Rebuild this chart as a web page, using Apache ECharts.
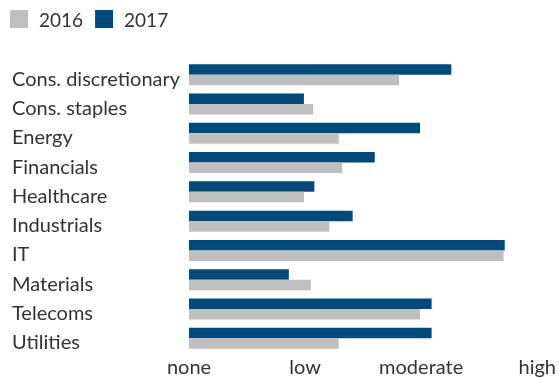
<!DOCTYPE html>
<html>
<head>
<meta charset="utf-8">
<script src="https://cdn.jsdelivr.net/npm/echarts@6/dist/echarts.min.js"></script>
<style>
  html, body { margin: 0; padding: 0; background: #fff; }
  #chart { width: 559px; height: 378px; }
</style>
</head>
<body>
<div id="chart"></div>
<script>
// Sectors listed top to bottom
const sectors = [
  'Cons. discretionary', 'Cons. staples', 'Energy', 'Financials', 'Healthcare',
  'Industrials', 'IT', 'Materials', 'Telecoms', 'Utilities'
];
// Exposure scores on a 0 (none) to 3 (high) scale
const values2016 = [1.81, 1.07, 1.29, 1.32, 0.99, 1.21, 2.71, 1.05, 1.99, 1.29];
const values2017 = [2.26, 0.99, 1.99, 1.60, 1.08, 1.41, 2.72, 0.86, 2.09, 2.09];
// Scale labels for ticks 0..3
const levelLabels = ['none', 'low', 'moderate', 'high'];

const FONT = 'Lato, "Open Sans", sans-serif';
const TEXT = '#333333';

const chart = echarts.init(document.getElementById('chart'), null, { renderer: 'canvas' });
chart.setOption({
  animation: false,
  textStyle: { fontFamily: FONT },
  legend: {
    data: ['2016', '2017'],
    left: 10,
    top: 10,
    icon: 'rect',
    itemWidth: 18,
    itemHeight: 18,
    itemGap: 12,
    padding: 0,
    formatter: name => '{t|' + name + '}',
    textStyle: {
      fontSize: 19, color: TEXT, fontFamily: FONT,
      rich: { t: { fontSize: 19, color: TEXT, fontFamily: FONT, padding: [4, 0, 0, 6] } }
    }
  },
  grid: { left: 189, right: 20, top: 60, bottom: 24.7, containLabel: false },
  xAxis: {
    type: 'value',
    min: 0,
    max: 3,
    interval: 1,
    axisLine: { show: false },
    axisTick: { show: false },
    splitLine: { show: false },
    axisLabel: {
      margin: 5,
      fontSize: 20,
      color: TEXT,
      fontFamily: FONT,
      formatter: v => levelLabels[Math.round(v)]
    }
  },
  yAxis: {
    type: 'category',
    data: sectors,
    inverse: true,
    axisLine: { show: false },
    axisTick: { show: false },
    axisLabel: {
      align: 'left',
      margin: 177,
      fontSize: 20,
      color: TEXT,
      fontFamily: FONT,
      formatter: v => '{c|' + v + '}',
      rich: { c: { fontSize: 20, color: TEXT, fontFamily: FONT, padding: [9, 0, 0, 0] } }
    }
  },
  series: [
    {
      name: '2017',
      type: 'bar',
      data: values2017,
      barWidth: 10.5,
      barGap: '0%',
      itemStyle: { color: '#004a7c' }
    },
    {
      name: '2016',
      type: 'bar',
      data: values2016,
      barWidth: 10.5,
      barGap: '0%',
      itemStyle: { color: '#bfbfbf' }
    }
  ]
});
</script>
</body>
</html>
